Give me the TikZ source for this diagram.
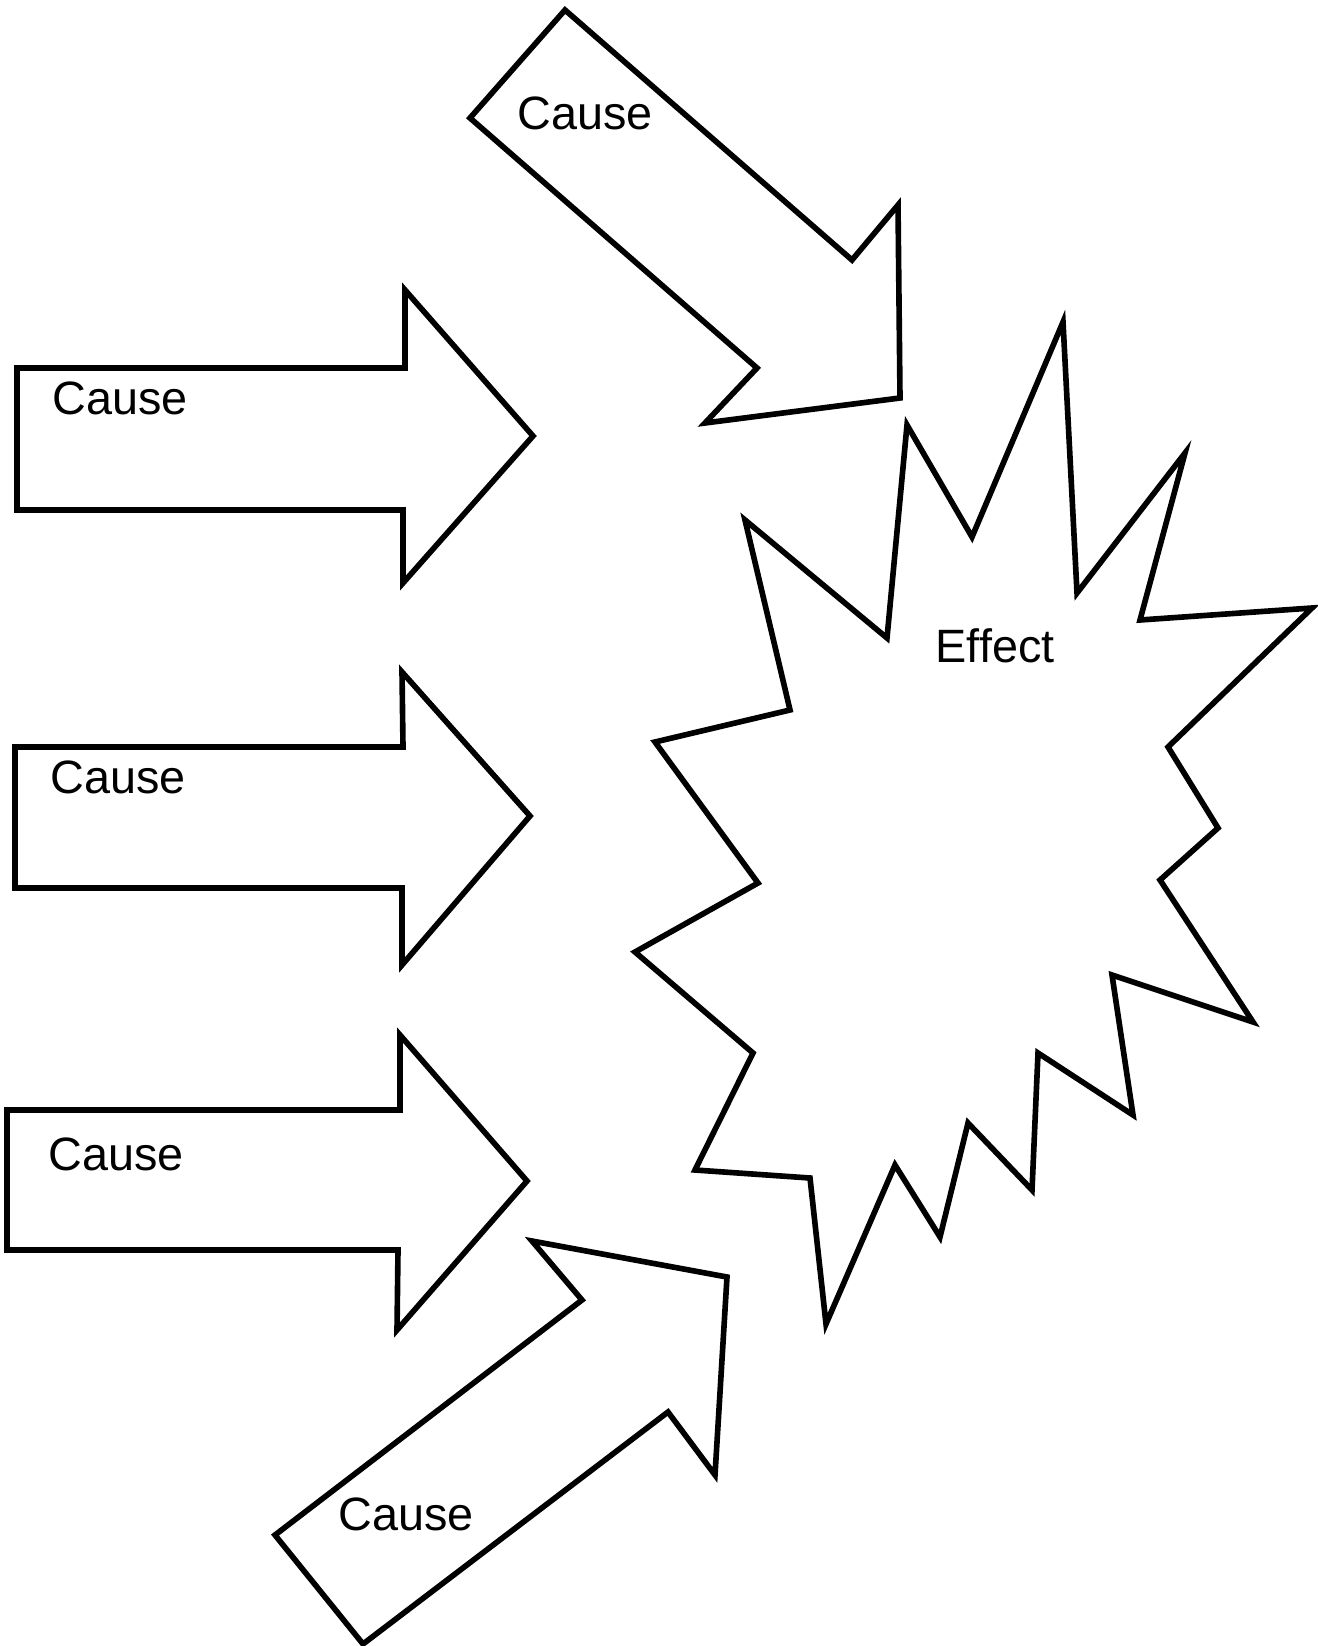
\documentclass[tikz,border=0pt]{standalone}
\usepackage{fontspec}
\setmainfont{Liberation Sans}
\begin{document}
\begin{tikzpicture}[x={(0.01cm,0)},y={(0,-0.01cm)},
  shapeline/.style={draw=black,line width=1.6pt,line join=miter},
  label/.style={inner sep=0pt,anchor=base west,font=\fontsize{13.3pt}{16pt}\selectfont}]
\useasboundingbox[fill=white] (0,0) rectangle (1317,1646);

% top diagonal arrow
\draw[shapeline] (565,10) -- (852,260) -- (898,205) -- (900,398) -- (705,423) -- (757,368) -- (470,118) -- cycle;
\node[label] (c0) at (517,130) {Cause};

% left arrows
\draw[shapeline] (17,368) -- (405,368) -- (405,290) -- (533,436) -- (403,583) -- (403,510) -- (17,510) -- cycle;
\node[label] (c1) at (52,415) {Cause};

\draw[shapeline] (15,747) -- (403,747) -- (402,672) -- (530,816) -- (402,965) -- (402,888) -- (15,888) -- cycle;
\node[label] (c2) at (50,793) {Cause};

\draw[shapeline] (7,1110) -- (400,1110) -- (400,1035) -- (527,1181) -- (397,1330) -- (398,1250) -- (7,1250) -- cycle;
\node[label] (c3) at (48,1170) {Cause};

% bottom diagonal arrow
\draw[shapeline] (275,1535) -- (582,1300) -- (532,1241) -- (727,1277) -- (715,1475) -- (668,1412) -- (363,1644) -- cycle;
\node[label] (c4) at (338,1530) {Cause};

% starburst
\draw[shapeline] (655,742) -- (790,710) -- (745,520) -- (887,638) -- (907,425) -- (972,537)
  -- (1063,322) -- (1077,593) -- (1185,453) -- (1140,620) -- (1312,608) -- (1168,747)
  -- (1218,828) -- (1160,880) -- (1253,1022) -- (1112,975) -- (1133,1115) -- (1038,1053)
  -- (1032,1190) -- (968,1123) -- (940,1237) -- (895,1165) -- (826,1324) -- (810,1178)
  -- (695,1170) -- (753,1053) -- (635,952) -- (758,883) -- cycle;
\node[label] (eff) at (935,662) {Effect};
\end{tikzpicture}
\end{document}
